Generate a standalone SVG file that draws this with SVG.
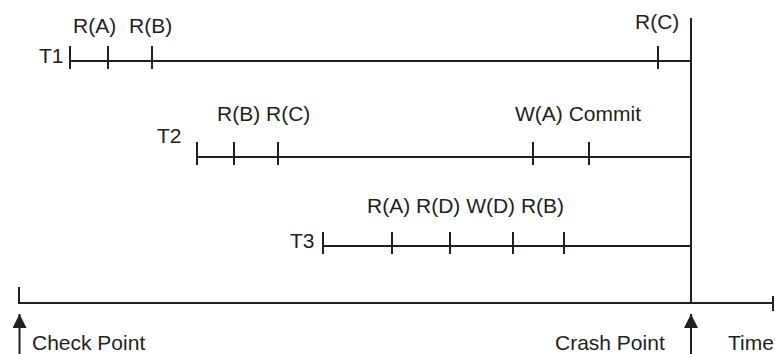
<svg xmlns="http://www.w3.org/2000/svg" width="775" height="354" viewBox="0 0 775 354">
<style>
.ln{stroke:#231f20;stroke-width:2;fill:none}
.t{font-family:"Liberation Sans",Arial,sans-serif;font-size:21px;fill:#231f20}
</style>
<defs>
<marker id="ah" viewBox="0 0 14 14" refX="14" refY="7" markerWidth="14" markerHeight="14" markerUnits="userSpaceOnUse" orient="auto">
<path d="M0,0 L14,7 L0,14 Z" fill="#231f20"/>
</marker>
</defs>
<rect width="775" height="354" fill="#fff"/>
<g id="T1">
<text class="t" x="39" y="63">T1</text>
<line class="ln" x1="70" y1="61" x2="691" y2="61"/>
<line class="ln" x1="70" y1="46" x2="70" y2="69"/>
<line class="ln" x1="108" y1="46" x2="108" y2="69"/>
<line class="ln" x1="152" y1="46" x2="152" y2="69"/>
<line class="ln" x1="658" y1="46" x2="658" y2="69"/>
<text class="t" x="73" y="33">R(A)</text>
<text class="t" x="129" y="33">R(B)</text>
<text class="t" x="635" y="29">R(C)</text>
</g>
<g id="T2">
<text class="t" x="157" y="143">T2</text>
<line class="ln" x1="197" y1="157" x2="691" y2="157"/>
<line class="ln" x1="197" y1="142" x2="197" y2="165"/>
<line class="ln" x1="234" y1="142" x2="234" y2="165"/>
<line class="ln" x1="278" y1="142" x2="278" y2="165"/>
<line class="ln" x1="533" y1="142" x2="533" y2="165"/>
<line class="ln" x1="589" y1="142" x2="589" y2="165"/>
<text class="t" x="217" y="121">R(B) R(C)</text>
<text class="t" x="515" y="121">W(A) Commit</text>
</g>
<g id="T3">
<text class="t" x="290" y="248">T3</text>
<line class="ln" x1="323" y1="246" x2="691" y2="246"/>
<line class="ln" x1="323" y1="232" x2="323" y2="254"/>
<line class="ln" x1="392" y1="232" x2="392" y2="254"/>
<line class="ln" x1="450" y1="232" x2="450" y2="254"/>
<line class="ln" x1="513" y1="232" x2="513" y2="254"/>
<line class="ln" x1="564" y1="232" x2="564" y2="254"/>
<text class="t" x="367" y="213">R(A) R(D) W(D) R(B)</text>
</g>
<g id="time-axis">
<line class="ln" x1="19" y1="303" x2="774" y2="303"/>
<line class="ln" x1="19" y1="287" x2="19" y2="304"/>
<line class="ln" x1="773" y1="296" x2="773" y2="311"/>
<text class="t" x="728" y="350">Time</text>
</g>
<g id="crash-line">
<line class="ln" x1="691" y1="18" x2="691" y2="304"/>
</g>
<g id="connectors">
<line class="ln" x1="19.5" y1="354" x2="19.5" y2="314" marker-end="url(#ah)"/>
<line class="ln" x1="691" y1="354" x2="691" y2="314" marker-end="url(#ah)"/>
</g>
<g id="checkpoint">
<text class="t" x="32" y="350">Check Point</text>
</g>
<g id="crashpoint">
<text class="t" x="555" y="350">Crash Point</text>
</g>
</svg>
